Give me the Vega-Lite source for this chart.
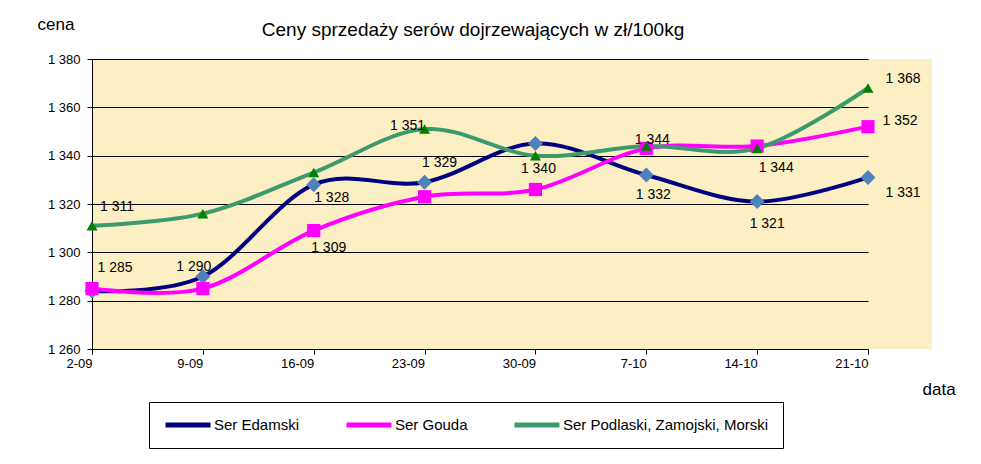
{
  "$schema": "https://vega.github.io/schema/vega-lite/v6.json",
  "width": 840,
  "height": 290,
  "autosize": {"type": "none"},
  "padding": {"left": 92, "top": 59, "right": 49, "bottom": 115},
  "background": "white",
  "title": {
    "text": "Ceny sprzedaży serów dojrzewających w zł/100kg",
    "fontSize": 19,
    "fontWeight": "normal",
    "color": "black",
    "anchor": "middle",
    "frame": "group",
    "dx": -39,
    "offset": 0,
    "dy": 40,
    "baseline": "alphabetic"
  },
  "config": {
    "font": "Liberation Sans",
    "view": {"fill": "#FDEFC4", "stroke": null},
    "text": {"fontSize": 14, "color": "black", "align": "center", "baseline": "middle"}
  },
  "data": {
    "values": [
      {"date": "2-09", "series": "Ser Edamski", "marker": "Ser Edamski", "value": 1284, "label": null},
      {"date": "9-09", "series": "Ser Edamski", "marker": "Ser Edamski", "value": 1290, "label": "1 290"},
      {"date": "16-09", "series": "Ser Edamski", "marker": "Ser Edamski", "value": 1328, "label": "1 328"},
      {"date": "23-09", "series": "Ser Edamski", "marker": "Ser Edamski", "value": 1329, "label": "1 329"},
      {"date": "30-09", "series": "Ser Edamski", "marker": "Ser Edamski", "value": 1345, "label": null},
      {"date": "7-10", "series": "Ser Edamski", "marker": "Ser Edamski", "value": 1332, "label": "1 332"},
      {"date": "14-10", "series": "Ser Edamski", "marker": "Ser Edamski", "value": 1321, "label": "1 321"},
      {"date": "21-10", "series": "Ser Edamski", "marker": "Ser Edamski", "value": 1331, "label": "1 331"},
      {"date": "2-09", "series": "Ser Gouda", "marker": "Ser Gouda", "value": 1285, "label": "1 285"},
      {"date": "9-09", "series": "Ser Gouda", "marker": "Ser Gouda", "value": 1285, "label": null},
      {"date": "16-09", "series": "Ser Gouda", "marker": "Ser Gouda", "value": 1309, "label": "1 309"},
      {"date": "23-09", "series": "Ser Gouda", "marker": "Ser Gouda", "value": 1323, "label": null},
      {"date": "30-09", "series": "Ser Gouda", "marker": "Ser Gouda", "value": 1326, "label": null},
      {"date": "7-10", "series": "Ser Gouda", "marker": "Ser Gouda", "value": 1343, "label": null},
      {"date": "14-10", "series": "Ser Gouda", "marker": "Ser Gouda", "value": 1344, "label": "1 344"},
      {"date": "21-10", "series": "Ser Gouda", "marker": "Ser Gouda", "value": 1352, "label": "1 352"},
      {"date": "2-09", "series": "Ser Podlaski, Zamojski, Morski", "marker": "Ser Podlaski, Zamojski, Morski", "value": 1311, "label": "1 311"},
      {"date": "9-09", "series": "Ser Podlaski, Zamojski, Morski", "marker": "Ser Podlaski, Zamojski, Morski", "value": 1316, "label": null},
      {"date": "16-09", "series": "Ser Podlaski, Zamojski, Morski", "marker": "Ser Podlaski, Zamojski, Morski", "value": 1333, "label": null},
      {"date": "23-09", "series": "Ser Podlaski, Zamojski, Morski", "marker": "Ser Podlaski, Zamojski, Morski", "value": 1351, "label": "1 351"},
      {"date": "30-09", "series": "Ser Podlaski, Zamojski, Morski", "marker": "Ser Podlaski, Zamojski, Morski", "value": 1340, "label": "1 340"},
      {"date": "7-10", "series": "Ser Podlaski, Zamojski, Morski", "marker": "Ser Podlaski, Zamojski, Morski", "value": 1344, "label": "1 344"},
      {"date": "14-10", "series": "Ser Podlaski, Zamojski, Morski", "marker": "Ser Podlaski, Zamojski, Morski", "value": 1343, "label": null},
      {"date": "21-10", "series": "Ser Podlaski, Zamojski, Morski", "marker": "Ser Podlaski, Zamojski, Morski", "value": 1368, "label": "1 368"}
    ]
  },
  "encoding": {
    "x": {
      "field": "date",
      "type": "ordinal",
      "sort": ["2-09", "9-09", "16-09", "23-09", "30-09", "7-10", "14-10", "21-10"],
      "scale": {"type": "point", "padding": 0, "range": [0, 776]},
      "axis": {
        "title": "data",
        "titleFontSize": 17,
        "titleFontWeight": "normal",
        "titleColor": "black",
        "titleX": 830,
        "titleY": 45,
        "titleAlign": "left",
        "titleBaseline": "alphabetic",
        "labelAngle": 0,
        "labelAlign": "right",
        "labelFontSize": 13,
        "labelColor": "black",
        "labelPadding": 3,
        "labelOverlap": false,
        "domain": false,
        "grid": false,
        "ticks": true,
        "tickColor": "black",
        "tickSize": 5
      }
    },
    "y": {
      "field": "value",
      "type": "quantitative",
      "scale": {"domain": [1260, 1380], "nice": false, "zero": false},
      "axis": {
        "title": "cena",
        "titleFontSize": 17,
        "titleFontWeight": "normal",
        "titleColor": "black",
        "titleAngle": 0,
        "titleX": -55,
        "titleY": -30,
        "titleAlign": "left",
        "titleBaseline": "alphabetic",
        "values": [1260, 1280, 1300, 1320, 1340, 1360, 1380],
        "labelExpr": "replace(format(datum.value, ','), ',', ' ')",
        "labelFontSize": 13,
        "labelColor": "black",
        "labelPadding": 7,
        "domain": true,
        "domainColor": "black",
        "tickColor": "black",
        "tickSize": 5,
        "grid": true,
        "gridColor": "black",
        "gridOpacity": 1,
        "gridWidth": 1
      }
    }
  },
  "layer": [
    {
      "mark": {"type": "line", "interpolate": "cardinal", "strokeWidth": 4},
      "encoding": {
        "stroke": {
          "field": "series",
          "type": "nominal",
          "scale": {
            "domain": ["Ser Edamski", "Ser Gouda", "Ser Podlaski, Zamojski, Morski"],
            "range": ["#000080", "#FF00FF", "#3C9A6C"]
          },
          "legend": {
            "title": null,
            "orient": "none",
            "legendX": 57,
            "legendY": 343,
            "direction": "horizontal",
            "columns": 3,
            "columnPadding": 44,
            "padding": 14,
            "strokeColor": "black",
            "symbolType": "stroke",
            "symbolSize": 2025,
            "symbolStrokeWidth": 5,
            "clipHeight": 18,
            "labelOffset": 1,
            "labelFontSize": 15,
            "labelColor": "black",
            "labelLimit": 400,
            "zindex": 0
          }
        }
      }
    },
    {
      "mark": {"type": "point", "filled": true, "opacity": 1, "strokeWidth": 0},
      "encoding": {
        "fill": {
          "field": "marker",
          "type": "nominal",
          "scale": {
            "range": ["#4F81BD", "#FF00FF", "#008000"]
          },
          "legend": {
            "title": null,
            "orient": "none",
            "legendX": 57,
            "legendY": 343,
            "direction": "horizontal",
            "columns": 3,
            "columnPadding": 44,
            "padding": 14,
            "symbolType": "circle",
            "symbolSize": 90,
            "symbolStrokeWidth": 0,
            "symbolOpacity": 1,
            "symbolOffset": 20,
            "clipHeight": 18,
            "labelOffset": 43,
            "labelFontSize": 15,
            "labelOpacity": 0,
            "labelLimit": 400,
            "zindex": 5
          }
        },
        "shape": {
          "field": "marker",
          "type": "nominal",
          "scale": {
            "range": ["diamond", "square", "triangle-up"]
          },
          "legend": {
            "title": null,
            "orient": "none",
            "legendX": 57,
            "legendY": 343,
            "direction": "horizontal",
            "columns": 3,
            "columnPadding": 44,
            "padding": 14,
            "symbolSize": 90,
            "symbolStrokeWidth": 0,
            "symbolOpacity": 1,
            "symbolOffset": 20,
            "clipHeight": 18,
            "labelOffset": 43,
            "labelFontSize": 15,
            "labelOpacity": 0,
            "labelLimit": 400,
            "zindex": 5
          }
        },
        "size": {
          "field": "marker",
          "type": "nominal",
          "scale": {
            "range": [225, 121, 220]
          },
          "legend": null
        }
      }
    },
    {"transform": [{"filter": "datum.series == 'Ser Gouda' && datum.date == '2-09'"}], "mark": {"type": "text", "dx": 23, "dy": -21}, "encoding": {"text": {"field": "label"}}},
    {"transform": [{"filter": "datum.series == 'Ser Edamski' && datum.date == '9-09'"}], "mark": {"type": "text", "dx": -9, "dy": -10}, "encoding": {"text": {"field": "label"}}},
    {"transform": [{"filter": "datum.series == 'Ser Podlaski, Zamojski, Morski' && datum.date == '2-09'"}], "mark": {"type": "text", "dx": 25, "dy": -19}, "encoding": {"text": {"field": "label"}}},
    {"transform": [{"filter": "datum.series == 'Ser Edamski' && datum.date == '16-09'"}], "mark": {"type": "text", "dx": 18, "dy": 13}, "encoding": {"text": {"field": "label"}}},
    {"transform": [{"filter": "datum.series == 'Ser Gouda' && datum.date == '16-09'"}], "mark": {"type": "text", "dx": 15, "dy": 17}, "encoding": {"text": {"field": "label"}}},
    {"transform": [{"filter": "datum.series == 'Ser Podlaski, Zamojski, Morski' && datum.date == '23-09'"}], "mark": {"type": "text", "dx": -17, "dy": -3}, "encoding": {"text": {"field": "label"}}},
    {"transform": [{"filter": "datum.series == 'Ser Edamski' && datum.date == '23-09'"}], "mark": {"type": "text", "dx": 15, "dy": -19}, "encoding": {"text": {"field": "label"}}},
    {"transform": [{"filter": "datum.series == 'Ser Podlaski, Zamojski, Morski' && datum.date == '30-09'"}], "mark": {"type": "text", "dx": 3, "dy": 13}, "encoding": {"text": {"field": "label"}}},
    {"transform": [{"filter": "datum.series == 'Ser Podlaski, Zamojski, Morski' && datum.date == '7-10'"}], "mark": {"type": "text", "dx": 6, "dy": -6}, "encoding": {"text": {"field": "label"}}},
    {"transform": [{"filter": "datum.series == 'Ser Edamski' && datum.date == '7-10'"}], "mark": {"type": "text", "dx": 7, "dy": 20}, "encoding": {"text": {"field": "label"}}},
    {"transform": [{"filter": "datum.series == 'Ser Gouda' && datum.date == '14-10'"}], "mark": {"type": "text", "dx": 19, "dy": 22}, "encoding": {"text": {"field": "label"}}},
    {"transform": [{"filter": "datum.series == 'Ser Edamski' && datum.date == '14-10'"}], "mark": {"type": "text", "dx": 10, "dy": 22}, "encoding": {"text": {"field": "label"}}},
    {"transform": [{"filter": "datum.series == 'Ser Podlaski, Zamojski, Morski' && datum.date == '21-10'"}], "mark": {"type": "text", "dx": 35, "dy": -9}, "encoding": {"text": {"field": "label"}}},
    {"transform": [{"filter": "datum.series == 'Ser Gouda' && datum.date == '21-10'"}], "mark": {"type": "text", "dx": 32, "dy": -6}, "encoding": {"text": {"field": "label"}}},
    {"transform": [{"filter": "datum.series == 'Ser Edamski' && datum.date == '21-10'"}], "mark": {"type": "text", "dx": 35, "dy": 16}, "encoding": {"text": {"field": "label"}}}
  ]
}
